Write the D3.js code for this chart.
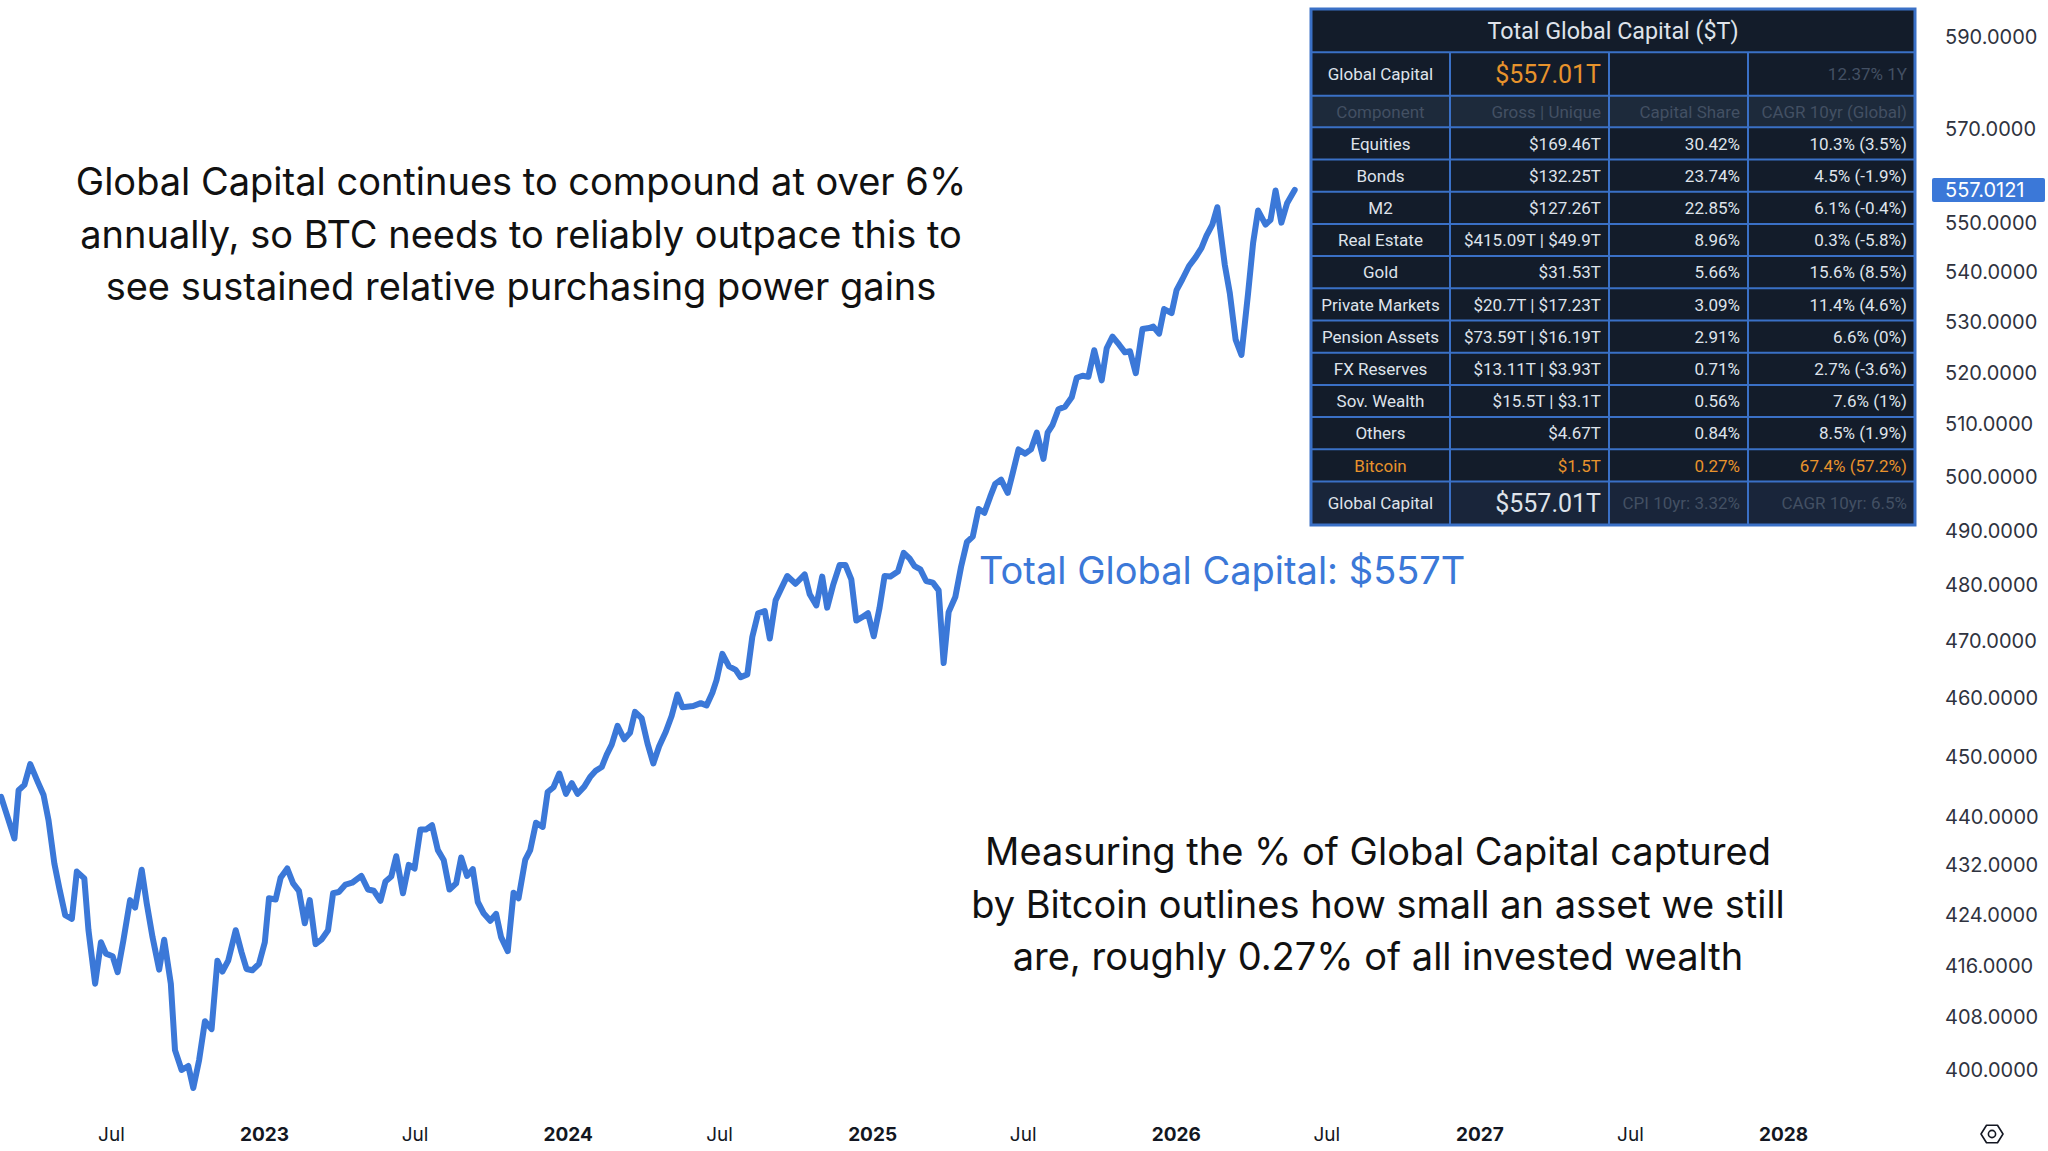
<!DOCTYPE html>
<html>
<head>
<meta charset="utf-8">
<script src="https://cdn.jsdelivr.net/npm/d3@7"></script>
<style>
  html, body { margin: 0; padding: 0; background: #ffffff; }
  #chart { width: 2048px; height: 1151px; }
</style>
</head>
<body>
<div id="chart"></div>
<script>
// weekly readings of total global capital ($T)
const weekDates = [
  "2022-02-19","2022-03-07","2022-03-12","2022-03-19","2022-03-26","2022-04-04","2022-04-11","2022-04-17",
  "2022-04-24","2022-04-30","2022-05-07","2022-05-15","2022-05-21","2022-05-30","2022-06-04","2022-06-12",
  "2022-06-19","2022-06-25","2022-07-03","2022-07-09","2022-07-16","2022-07-24","2022-07-30","2022-08-07",
  "2022-08-13","2022-08-20","2022-08-28","2022-09-03","2022-09-11","2022-09-16","2022-09-24","2022-10-02",
  "2022-10-08","2022-10-15","2022-10-22","2022-10-30","2022-11-06","2022-11-12","2022-11-19","2022-11-28",
  "2022-12-05","2022-12-11","2022-12-18","2022-12-26","2023-01-02","2023-01-07","2023-01-15","2023-01-21",
  "2023-01-29","2023-02-05","2023-02-12","2023-02-19","2023-02-25","2023-03-04","2023-03-11","2023-03-19",
  "2023-03-25","2023-04-01","2023-04-09","2023-04-17","2023-04-28","2023-05-06","2023-05-13","2023-05-21",
  "2023-05-27","2023-06-03","2023-06-09","2023-06-17","2023-06-24","2023-07-01","2023-07-08","2023-07-15",
  "2023-07-22","2023-07-29","2023-08-05","2023-08-12","2023-08-20","2023-08-26","2023-09-02","2023-09-09",
  "2023-09-15","2023-09-22","2023-09-30","2023-10-07","2023-10-13","2023-10-21","2023-10-28","2023-11-03",
  "2023-11-11","2023-11-17","2023-11-24","2023-12-02","2023-12-08","2023-12-15","2023-12-22","2023-12-30",
  "2024-01-06","2024-01-13","2024-01-21","2024-01-28","2024-02-04","2024-02-11","2024-02-17","2024-02-23",
  "2024-03-01","2024-03-09","2024-03-16","2024-03-22","2024-03-30","2024-04-06","2024-04-13","2024-04-20",
  "2024-04-28","2024-05-05","2024-05-12","2024-05-18","2024-05-31","2024-06-09","2024-06-16","2024-06-23",
  "2024-06-28","2024-07-05","2024-07-13","2024-07-21","2024-07-27","2024-08-04","2024-08-10","2024-08-17",
  "2024-08-25","2024-08-31","2024-09-07","2024-09-13","2024-09-21","2024-10-01","2024-10-12","2024-10-18",
  "2024-10-26","2024-11-02","2024-11-08","2024-11-15","2024-11-23","2024-11-30","2024-12-07","2024-12-13",
  "2024-12-20","2024-12-27","2025-01-03","2025-01-10","2025-01-16","2025-01-23","2025-02-01","2025-02-08",
  "2025-02-15","2025-02-21","2025-02-28","2025-03-07","2025-03-15","2025-03-22","2025-03-28","2025-04-03",
  "2025-04-11","2025-04-18","2025-04-25","2025-05-02","2025-05-09","2025-05-16","2025-05-23","2025-05-29",
  "2025-06-05","2025-06-13","2025-06-19","2025-06-26","2025-07-04","2025-07-11","2025-07-18","2025-07-26",
  "2025-07-31","2025-08-06","2025-08-13","2025-08-21","2025-08-29","2025-09-04","2025-09-11","2025-09-18",
  "2025-09-25","2025-10-04","2025-10-10","2025-10-17","2025-10-25","2025-11-01","2025-11-07","2025-11-14",
  "2025-11-22","2025-11-30","2025-12-05","2025-12-12","2025-12-18","2025-12-27","2026-01-02","2026-01-09",
  "2026-01-17","2026-01-25","2026-02-01","2026-02-07","2026-02-14","2026-02-20","2026-03-01","2026-03-07",
  "2026-03-14","2026-03-21","2026-03-29","2026-04-04","2026-04-10","2026-04-19","2026-04-25","2026-05-01",
  "2026-05-08","2026-05-15","2026-05-24"
];

const capitalValues = [
  443.3, 436.4, 444.4, 445.3, 448.8, 445.8, 443.6, 439.4,
  432.3, 428.3, 424.0, 423.4, 431.0, 429.9, 421.6, 413.2,
  419.7, 417.9, 417.5, 415.0, 420.0, 426.4, 425.2, 431.3,
  425.9, 420.5, 415.4, 420.1, 413.2, 403.0, 400.0, 400.6,
  397.3, 401.5, 407.4, 406.2, 416.8, 415.1, 416.8, 421.6,
  418.1, 415.5, 415.3, 416.3, 419.7, 426.7, 426.5, 430.0,
  431.5, 429.1, 427.9, 422.7, 426.4, 419.4, 420.1, 421.6,
  427.5, 427.7, 428.9, 429.2, 430.3, 428.1, 427.9, 426.3,
  429.4, 430.2, 433.5, 427.5, 432.1, 431.5, 437.9, 437.9,
  438.6, 434.5, 432.9, 428.1, 429.1, 433.3, 430.3, 431.4,
  426.1, 424.3, 423.1, 424.2, 420.5, 418.3, 427.6, 426.7,
  432.9, 434.5, 439.0, 438.3, 444.1, 444.9, 447.2, 443.8,
  445.6, 443.8, 445.0, 446.6, 447.7, 448.3, 450.4, 452.1,
  455.3, 453.0, 454.1, 457.7, 456.6, 452.3, 448.9, 451.8,
  454.3, 457.0, 460.7, 458.5, 458.7, 459.2, 458.8, 461.0,
  463.2, 467.8, 465.6, 465.0, 463.7, 464.2, 470.8, 475.0,
  475.4, 470.5, 477.3, 479.2, 481.7, 480.3, 482.0, 478.4,
  476.4, 481.6, 476.0, 480.0, 483.7, 483.7, 481.1, 473.7,
  474.3, 475.0, 470.9, 476.0, 481.7, 481.6, 482.5, 485.9,
  484.9, 483.5, 482.9, 480.8, 480.5, 479.1, 466.2, 475.2,
  477.9, 483.4, 487.9, 488.9, 494.0, 493.3, 496.3, 498.7,
  499.5, 497.0, 500.7, 505.2, 504.4, 505.2, 508.4, 503.4,
  508.4, 509.9, 512.9, 513.4, 515.2, 519.0, 519.4, 519.2,
  524.4, 518.5, 524.8, 527.1, 525.5, 524.0, 524.2, 519.9,
  528.6, 528.8, 529.1, 527.7, 532.6, 531.8, 536.4, 538.6,
  541.3, 543.1, 545.0, 547.5, 549.8, 553.4, 541.5, 535.8,
  526.5, 523.5, 535.8, 546.0, 552.7, 549.8, 550.8, 556.9,
  550.2, 554.3, 557.01
];

const lastValueLabel = "557.0121";
const yTickValues = [590, 570, 550, 540, 530, 520, 510, 500, 490, 480, 470, 460, 450, 440, 432, 424, 416, 408, 400];

// table contents
const tableTitle = "Total Global Capital ($T)";
const summaryRow = ["Global Capital", "$557.01T", "", "12.37% 1Y"];
const headerRow = ["Component", "Gross | Unique", "Capital Share", "CAGR 10yr (Global)"];
const components = ["Equities", "Bonds", "M2", "Real Estate", "Gold", "Private Markets",
  "Pension Assets", "FX Reserves", "Sov. Wealth", "Others", "Bitcoin"];
const grossUnique = ["$169.46T", "$132.25T", "$127.26T", "$415.09T | $49.9T", "$31.53T", "$20.7T | $17.23T",
  "$73.59T | $16.19T", "$13.11T | $3.93T", "$15.5T | $3.1T", "$4.67T", "$1.5T"];
const capitalShare = ["30.42%", "23.74%", "22.85%", "8.96%", "5.66%", "3.09%", "2.91%", "0.71%", "0.56%", "0.84%", "0.27%"];
const cagr10yr = ["10.3% (3.5%)", "4.5% (-1.9%)", "6.1% (-0.4%)", "0.3% (-5.8%)", "15.6% (8.5%)", "11.4% (4.6%)",
  "6.6% (0%)", "2.7% (-3.6%)", "7.6% (1%)", "8.5% (1.9%)", "67.4% (57.2%)"];
const footerRow = ["Global Capital", "$557.01T", "CPI 10yr: 3.32%", "CAGR 10yr: 6.5%"];

const noteTop = ["Global Capital continues to compound at over 6%",
  "annually, so BTC needs to reliably outpace this to",
  "see sustained relative purchasing power gains"];
const noteBottom = ["Measuring the % of Global Capital captured",
  "by Bitcoin outlines how small an asset we still",
  "are, roughly 0.27% of all invested wealth"];
const seriesLabel = "Total Global Capital: $557T";

const Color = {
  line: '#3b78d8',
  text: '#131722',
  axisText: '#2f3340',
  tableBg: '#131c2a',
  tableHeadBg: '#1d2a3b',
  tableFootBg: '#19253a',
  tableGrid: '#3a70c6',
  tableText: '#dfe3ea',
  tableDim: '#435063',
  orange: '#e8932c'
};

/**
 * Draws the global capital line with its notes and component table.
 */
class CapitalChart {

  constructor(selector) {
    this.element = d3.select(selector);
    this.initialize();
    this.update();
  }

  initialize() {
    this.width = 2048;
    this.height = 1151;
    this.fontFamily = 'Inter, "Noto Sans", sans-serif';
    this.tableFont = 'Roboto, "Noto Sans", sans-serif';
    this.parseDate = d3.timeParse('%Y-%m-%d');
    this.points = weekDates.map((d, i) => ({date: this.parseDate(d), value: capitalValues[i]}));
  }

  update() {
    this.createSVG();
    this.createScales();
    this.renderAxis();
    this.renderLine();
    this.renderNotes();
    this.renderTable();
  }

  createSVG() {
    this.element.selectAll('svg').remove();
    this.svg = this.element
      .append('svg')
      .attr('width', this.width)
      .attr('height', this.height)
      .attr('viewBox', `0 0 ${this.width} ${this.height}`);

    this.svg.append('rect')
      .attr('width', this.width)
      .attr('height', this.height)
      .attr('fill', '#ffffff');
  }

  createScales() {
    this.xChart = d3.scaleTime()
      .domain([new Date(2023, 0, 1), new Date(2028, 0, 1)])
      .range([264, 1783]);

    this.yChart = d3.scaleLog()
      .domain([400, 590])
      .range([1070, 37]);
  }

  renderAxis() {
    let xAxis = d3.axisBottom(this.xChart)
      .tickValues(d3.timeMonth.every(6).range(new Date(2022, 6, 1), new Date(2028, 0, 2)))
      .tickSize(0)
      .tickFormat(d => d.getMonth() === 0 ? d3.timeFormat('%Y')(d) : 'Jul');

    let xg = this.svg.append('g')
      .attr('transform', 'translate(0,1134)')
      .call(xAxis);
    xg.select('.domain').remove();
    xg.selectAll('text')
      .attr('y', 0)
      .attr('dy', '0.36em')
      .attr('fill', Color.text)
      .attr('font-family', this.fontFamily)
      .attr('font-size', 19)
      .attr('font-weight', d => d.getMonth() === 0 ? 700 : 400);

    let yAxis = d3.axisRight(this.yChart)
      .tickValues(yTickValues)
      .tickSize(0)
      .tickPadding(0)
      .tickFormat(d3.format('.4f'));

    let yg = this.svg.append('g')
      .attr('transform', 'translate(1945,0)')
      .call(yAxis);
    yg.select('.domain').remove();
    yg.selectAll('text')
      .attr('fill', Color.axisText)
      .attr('font-family', this.fontFamily)
      .attr('font-size', 20);

    // last value marker on the price scale
    let lastY = this.yChart(capitalValues[capitalValues.length - 1]);
    this.svg.append('rect')
      .attr('x', 1932)
      .attr('y', lastY - 12)
      .attr('width', 113)
      .attr('height', 24)
      .attr('rx', 2)
      .attr('fill', Color.line);
    this.svg.append('text')
      .attr('x', 1945)
      .attr('y', lastY)
      .attr('dy', '0.35em')
      .attr('fill', '#ffffff')
      .attr('font-family', this.fontFamily)
      .attr('font-size', 20)
      .text(lastValueLabel);

    // settings glyph in the corner
    let cx = 1992, cy = 1134, r = 11;
    let hex = d3.range(6).map(i => {
      let a = Math.PI / 3 * i;
      return [cx + r * Math.cos(a), cy + r * 0.92 * Math.sin(a)];
    });
    this.svg.append('path')
      .attr('d', d3.line().curve(d3.curveLinearClosed)(hex))
      .attr('fill', 'none')
      .attr('stroke', Color.text)
      .attr('stroke-width', 1.6)
      .attr('stroke-linejoin', 'round');
    this.svg.append('circle')
      .attr('cx', cx)
      .attr('cy', cy)
      .attr('r', 3.6)
      .attr('fill', 'none')
      .attr('stroke', Color.text)
      .attr('stroke-width', 1.6);
  }

  renderLine() {
    let line = d3.line()
      .x(d => this.xChart(d.date))
      .y(d => this.yChart(d.value));

    this.svg.append('path')
      .datum(this.points)
      .attr('d', line)
      .attr('fill', 'none')
      .attr('stroke', Color.line)
      .attr('stroke-width', 6)
      .attr('stroke-linejoin', 'round')
      .attr('stroke-linecap', 'round');
  }

  renderNotes() {
    let lineGap = 52.5;

    let writeBlock = (lines, x, y) => {
      this.svg.append('g')
        .selectAll('text')
        .data(lines)
        .enter()
        .append('text')
        .attr('x', x)
        .attr('y', (d, i) => y + i * lineGap)
        .attr('text-anchor', 'middle')
        .attr('fill', '#111111')
        .attr('font-family', this.fontFamily)
        .attr('font-size', 38)
        .text(d => d);
    };

    writeBlock(noteTop, 521, 195);
    writeBlock(noteBottom, 1378, 865);

    this.svg.append('text')
      .attr('x', 979)
      .attr('y', 584)
      .attr('fill', Color.line)
      .attr('font-family', this.fontFamily)
      .attr('font-size', 38)
      .text(seriesLabel);
  }

  renderTable() {
    let cols = [1311, 1450, 1609, 1748, 1915];
    let top = 9, titleH = 43.3, summaryH = 43.4, headH = 31.6, rowH = 32.2, footH = 43.5;
    let summaryTop = top + titleH;
    let headTop = summaryTop + summaryH;
    let bodyTop = headTop + headH;
    let footTop = bodyTop + components.length * rowH;
    let bottom = footTop + footH;
    let pad = 8;

    let table = this.svg.append('g');

    table.append('rect')
      .attr('x', cols[0])
      .attr('y', top)
      .attr('width', cols[4] - cols[0])
      .attr('height', bottom - top)
      .attr('fill', Color.tableBg);

    table.append('rect')
      .attr('x', cols[0])
      .attr('y', headTop)
      .attr('width', cols[4] - cols[0])
      .attr('height', headH)
      .attr('fill', Color.tableHeadBg);

    table.append('rect')
      .attr('x', cols[0])
      .attr('y', footTop)
      .attr('width', cols[4] - cols[0])
      .attr('height', footH)
      .attr('fill', Color.tableFootBg);

    // grid lines
    let rowLines = [summaryTop, headTop, bodyTop].concat(d3.range(1, components.length + 1).map(i => bodyTop + i * rowH));
    table.append('g')
      .selectAll('line')
      .data(rowLines)
      .enter()
      .append('line')
      .attr('x1', cols[0])
      .attr('x2', cols[4])
      .attr('y1', d => d)
      .attr('y2', d => d)
      .attr('stroke', Color.tableGrid)
      .attr('stroke-width', 2);

    table.append('g')
      .selectAll('line')
      .data(cols.slice(1, 4))
      .enter()
      .append('line')
      .attr('x1', d => d)
      .attr('x2', d => d)
      .attr('y1', summaryTop)
      .attr('y2', bottom)
      .attr('stroke', Color.tableGrid)
      .attr('stroke-width', 2);

    table.append('rect')
      .attr('x', cols[0])
      .attr('y', top)
      .attr('width', cols[4] - cols[0])
      .attr('height', bottom - top)
      .attr('fill', 'none')
      .attr('stroke', Color.tableGrid)
      .attr('stroke-width', 3);

    let cellX = (c) => c === 0 ? (cols[0] + cols[1]) / 2 : cols[c + 1] - pad;
    let anchor = (c) => c === 0 ? 'middle' : 'end';

    let writeRow = (cells, y0, h, colors, sizes) => {
      table.append('g')
        .selectAll('text')
        .data(cells)
        .enter()
        .append('text')
        .attr('x', (d, c) => cellX(c))
        .attr('y', y0 + h / 2)
        .attr('dy', '0.36em')
        .attr('text-anchor', (d, c) => anchor(c))
        .attr('fill', (d, c) => colors[c])
        .attr('font-family', this.tableFont)
        .attr('font-size', (d, c) => sizes[c])
        .text(d => d);
    };

    table.append('text')
      .attr('x', (cols[0] + cols[4]) / 2)
      .attr('y', top + titleH / 2)
      .attr('dy', '0.36em')
      .attr('text-anchor', 'middle')
      .attr('fill', Color.tableText)
      .attr('font-family', this.tableFont)
      .attr('font-size', 23.3)
      .text(tableTitle);

    writeRow(summaryRow, summaryTop, summaryH,
      [Color.tableText, Color.orange, Color.tableText, Color.tableDim], [17, 25, 17, 17]);
    writeRow(headerRow, headTop, headH,
      [Color.tableDim, Color.tableDim, Color.tableDim, Color.tableDim], [17, 17, 17, 17]);

    components.forEach((name, i) => {
      let isBitcoin = name === 'Bitcoin';
      let color = isBitcoin ? Color.orange : Color.tableText;
      writeRow([name, grossUnique[i], capitalShare[i], cagr10yr[i]], bodyTop + i * rowH, rowH,
        [color, color, color, color], [17, 17, 17, 17]);
    });

    writeRow(footerRow, footTop, footH,
      [Color.tableText, Color.tableText, Color.tableDim, Color.tableDim], [17, 25, 17, 17]);
  }
}

new CapitalChart('#chart');
</script>
</body>
</html>
